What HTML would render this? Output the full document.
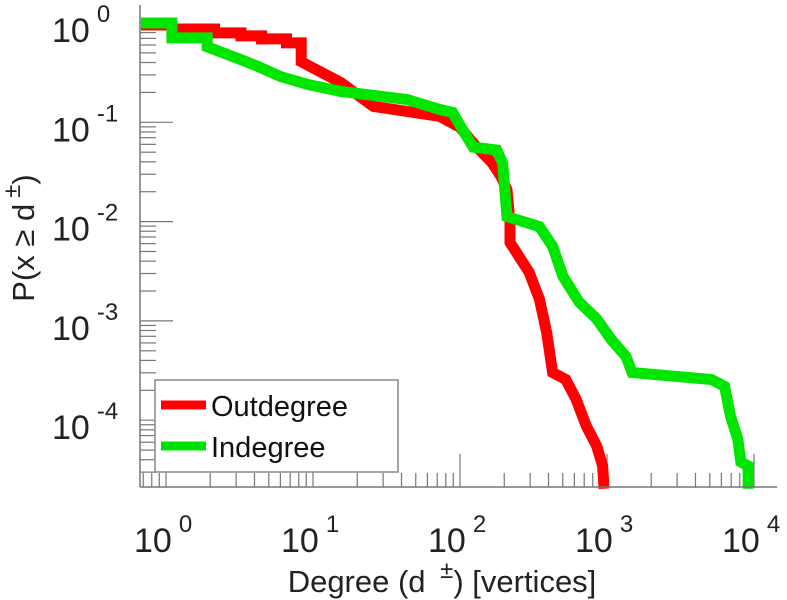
<!DOCTYPE html>
<html><head><meta charset="utf-8"><style>
html,body{margin:0;padding:0;background:#fff;}
svg{display:block;font-family:"Liberation Sans",sans-serif;}
</style></head><body>
<svg id="chart" width="787" height="600" viewBox="0 0 787 600">
<g id="ticks"></g>
<g id="series"></g>
<g id="labels"></g>
<line x1="140" y1="5" x2="140" y2="487" stroke="#777" stroke-width="1.5"/>
<line x1="140" y1="487" x2="777" y2="487" stroke="#777" stroke-width="1.5"/>
<g>
<rect x="155" y="380" width="243" height="92" fill="#fff" stroke="#888" stroke-width="1.5"/>
<line x1="161" y1="405" x2="206" y2="405" stroke="#ff0000" stroke-width="9"/>
<text x="211" y="416" font-size="29" fill="#111">Outdegree</text>
<line x1="161" y1="446" x2="206" y2="446" stroke="#00e000" stroke-width="9"/>
<text x="211" y="457" font-size="29" fill="#111">Indegree</text>
</g>
<text x="442" y="592" font-size="31" fill="#222" text-anchor="middle">Degree (d <tspan dx="6" dy="-14" font-size="24">±</tspan><tspan dy="14">) [vertices]</tspan></text>
<text transform="translate(34,238) rotate(-90)" font-size="31" fill="#222" text-anchor="middle">P(x ≥ d<tspan dx="6" dy="-14" font-size="24">±</tspan><tspan dy="14">)</tspan></text>
</svg>
<script>
const outLogDegree=[-0.17,0.04,0.04,0.33,0.33,0.51,0.51,0.65,0.65,0.82,0.82,0.92,0.92,1.19,1.41,1.64,1.86,2.00,2.09,2.22,2.28,2.32,2.34,2.34,2.47,2.54,2.59,2.63,2.72,2.79,2.86,2.93,2.97,2.98];
const outLogP=[-0.02,-0.02,-0.06,-0.06,-0.10,-0.10,-0.13,-0.13,-0.16,-0.16,-0.20,-0.20,-0.39,-0.60,-0.84,-0.89,-0.94,-1.05,-1.21,-1.41,-1.55,-1.68,-2.01,-2.21,-2.51,-2.78,-3.12,-3.52,-3.59,-3.79,-4.06,-4.26,-4.46,-4.69];
const inLogDegree=[-0.17,0.04,0.04,0.28,0.28,0.51,0.63,0.78,0.97,1.19,1.64,1.86,1.95,2.02,2.09,2.25,2.29,2.32,2.54,2.63,2.70,2.81,2.93,3.03,3.13,3.17,3.71,3.80,3.84,3.89,3.91,3.96,3.96];
const inLogP=[0.0,0.0,-0.15,-0.15,-0.24,-0.37,-0.44,-0.54,-0.62,-0.69,-0.77,-0.87,-0.90,-1.08,-1.25,-1.28,-1.41,-1.95,-2.05,-2.25,-2.55,-2.81,-2.98,-3.19,-3.36,-3.52,-3.59,-3.66,-3.96,-4.19,-4.42,-4.46,-4.69];
const xDecades=[0,1,2,3,4];
const yDecades=[0,-1,-2,-3,-4];
const xTickText=["0","1","2","3","4"];
const yTickText=["0","-1","-2","-3","-4"];

const NS="http://www.w3.org/2000/svg";
const X0=140,X1=777,Y0=5,Y1=487;
function sx(l){return 166+147*l;}
function sy(l){return 23-99.3*l;}
function mk(tag,attrs,parent){const e=document.createElementNS(NS,tag);for(const k in attrs)e.setAttribute(k,attrs[k]);parent.appendChild(e);return e;}
const ticks=document.getElementById('ticks');
const labels=document.getElementById('labels');
const series=document.getElementById('series');
for(let d=-1;d<=4;d++){for(let m=1;m<=9;m++){const l=d+Math.log10(m);const x=sx(l);if(x<X0||x>X1)continue;
const len=m===1?33:14;
const t=mk('line',{x1:x,y1:Y1,x2:x,y2:Y1-len,stroke:'#777','stroke-width':1.2},ticks);

}}
for(let d=-5;d<=0;d++){for(let m=1;m<=9;m++){const l=d+Math.log10(m);const y=sy(l);if(y<Y0||y>Y1)continue;
const len=m===1?33:16;
const t=mk('line',{x1:X0,y1:y,x2:X0+len,y2:y,stroke:'#777','stroke-width':1.2},ticks);

}}
xDecades.forEach((d,i)=>{const x=sx(d);
const t=mk('text',{x:x-32,y:552,'font-size':34,fill:'#222'},labels);
t.innerHTML='10<tspan dx="7" dy="-20" font-size="24">'+xTickText[i]+'</tspan>';

});
yDecades.forEach((d,i)=>{const y=sy(d);
const t=mk('text',{x:52,y:y+19,'font-size':34,fill:'#222'},labels);
t.innerHTML='10<tspan dx="7" dy="-20" font-size="24">'+yTickText[i]+'</tspan>';

});
function line(xs,ys,color,name){const pts=xs.map((v,i)=>sx(v).toFixed(1)+','+sy(ys[i]).toFixed(1)).join(' ');
const p=mk('polyline',{points:pts,fill:'none',stroke:color,'stroke-width':11,'stroke-linejoin':'miter'},series);

}
line(outLogDegree,outLogP,'#ff0000','outdegree-line');
line(inLogDegree,inLogP,'#00e600','indegree-line');
</script>
</body></html>
